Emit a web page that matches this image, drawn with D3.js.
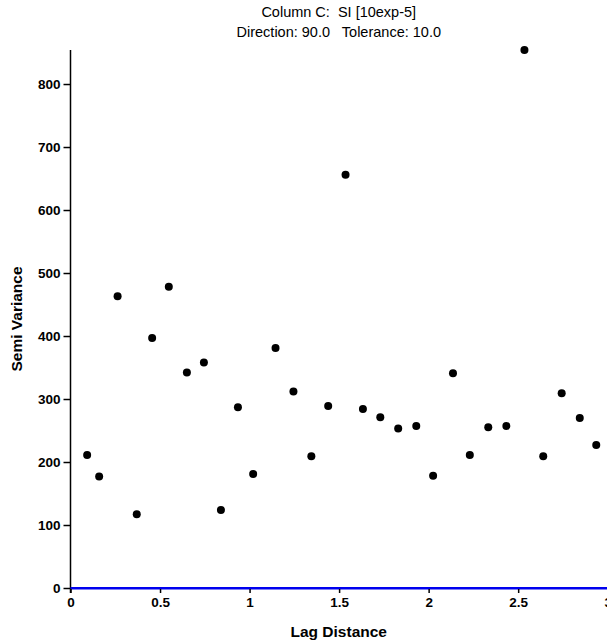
<!DOCTYPE html>
<html>
<head>
<meta charset="utf-8">
<script src="https://cdn.jsdelivr.net/npm/d3@7"></script>
<style>
  html, body { margin: 0; padding: 0; background: #fff; }
  svg { display: block; }
  text { font-family: Arial, "Liberation Sans", sans-serif; }
</style>
</head>
<body>
<div id="chart"></div>
<script>
const titleLines = ["Column C:  SI [10exp-5]", "Direction: 90.0   Tolerance: 10.0"];
const xLabel = "Lag Distance";
const yLabel = "Semi Variance";
const lagDistance = [0.093, 0.16, 0.263, 0.37, 0.456, 0.549, 0.65, 0.745, 0.84, 0.935, 1.02, 1.145, 1.245, 1.345, 1.439, 1.536, 1.633, 1.73, 1.83, 1.931, 2.025, 2.136, 2.23, 2.333, 2.434, 2.535, 2.64, 2.743, 2.844, 2.936];
const semiVariance = [211, 177, 463, 117, 397, 478, 342, 358, 124, 287, 181, 381, 312, 209, 289, 656, 284, 271, 253, 257, 178, 341, 211, 255, 257, 854, 209, 309, 270, 227];
const xTicks = [0, 0.5, 1, 1.5, 2, 2.5, 3];
const yTicks = [0, 100, 200, 300, 400, 500, 600, 700, 800];

const W = 607, H = 642;
const margin = { left: 70.5, right: 0, top: 50, bottom: 54 };

const svg = d3.select("#chart").append("svg").attr("width", W).attr("height", H);

const x = d3.scaleLinear().domain([0, 3]).range([margin.left, 607.7]);
const y = d3.scaleLinear().domain([0, 854]).range([H - margin.bottom, margin.top]);

// title
svg.append("g").selectAll("text").data(titleLines).join("text")
  .attr("x", (margin.left + W) / 2)
  .attr("y", (d, i) => 17 + i * 20)
  .attr("text-anchor", "middle")
  .attr("xml:space", "preserve")
  .style("white-space", "pre")
  .style("font-size", "14.5px")
  .style("fill", "#000")
  .text(d => d);

// x axis
const xAxis = svg.append("g")
  .attr("transform", `translate(0,${y(0)})`)
  .call(d3.axisBottom(x).tickValues(xTicks).tickFormat(d3.format("~g")).tickSize(5).tickSizeOuter(0));
xAxis.select(".domain").attr("stroke", "#0000ee").attr("stroke-width", 2);
xAxis.selectAll(".tick line").attr("stroke", "#000").attr("stroke-width", 1.5);
xAxis.selectAll(".tick text").attr("dy", "0.95em").attr("y", 6)
  .style("font-size", "13.5px").style("font-weight", "bold").style("font-family", "Arial, 'Liberation Sans', sans-serif").attr("fill", "#000");

// y axis
const yAxis = svg.append("g")
  .attr("transform", `translate(${margin.left},0)`)
  .call(d3.axisLeft(y).tickValues(yTicks).tickSize(7).tickSizeOuter(0));
yAxis.select(".domain").remove();
yAxis.append("line").attr("x1", 0).attr("x2", 0).attr("y1", margin.top).attr("y2", y(0) + 5)
  .attr("stroke", "#000").attr("stroke-width", 1.5);
yAxis.selectAll(".tick line").attr("stroke", "#000").attr("stroke-width", 1.5);
yAxis.selectAll(".tick text").attr("x", -10)
  .style("font-size", "13.5px").style("font-weight", "bold").style("font-family", "Arial, 'Liberation Sans', sans-serif").attr("fill", "#000");

// redraw blue baseline on top
svg.append("line").attr("x1", x(0)).attr("x2", W).attr("y1", y(0)).attr("y2", y(0))
  .attr("stroke", "#0000ee").attr("stroke-width", 2);

// axis titles
svg.append("text")
  .attr("x", (margin.left + W) / 2).attr("y", 637)
  .attr("text-anchor", "middle")
  .style("font-size", "15.5px").style("font-weight", "bold")
  .text(xLabel);

svg.append("text")
  .attr("transform", `translate(22,${(margin.top + y(0)) / 2}) rotate(-90)`)
  .attr("text-anchor", "middle")
  .style("font-size", "15.5px").style("font-weight", "bold")
  .text(yLabel);

// points
const pts = lagDistance.map((d, i) => ({ x: d, y: semiVariance[i] }));
svg.append("g").selectAll("circle").data(pts).join("circle")
  .attr("cx", d => x(d.x)).attr("cy", d => y(d.y)).attr("r", 4)
  .attr("fill", "#000");
</script>
</body>
</html>
